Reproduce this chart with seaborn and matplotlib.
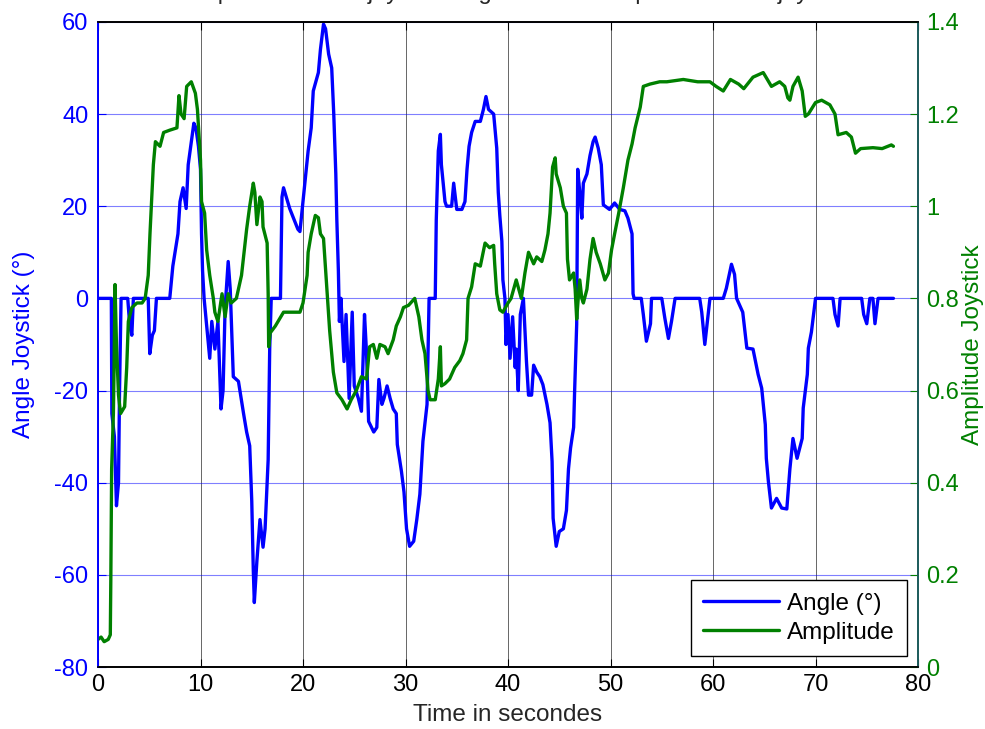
import pandas as pd
import seaborn as sns
import matplotlib.pyplot as plt

# joystick angle (deg) vs time (s)
angle_t = [0, 1.3, 1.35, 1.6, 1.8, 2.0, 2.1, 2.25, 2.9, 3.1, 3.3, 3.45, 4.9, 5.05, 5.3, 5.5, 5.7, 7.0,
           7.3, 7.8, 8.0, 8.3, 8.6, 8.8, 9.1, 9.35, 9.55, 9.8, 10.0, 10.1, 10.2, 10.35, 10.9, 11.1, 11.4,
           11.7, 12.0, 12.2, 12.4, 12.7, 12.9, 13.2, 13.7, 14.2, 14.5, 14.8, 15.0, 15.15, 15.25, 15.5,
           15.8, 16.1, 16.3, 16.6, 16.75, 16.9, 17.8, 17.95, 18.1, 18.7, 19.5, 19.7, 20.0, 20.5, 20.8,
           21.0, 21.5, 21.7, 22.0, 22.2, 22.5, 22.8, 23.0, 23.2, 23.3, 23.45, 23.55, 23.7, 24.0, 24.2,
           24.5, 24.8, 25.0, 25.4, 25.7, 26.0, 26.2, 26.4, 26.9, 27.2, 27.4, 27.7, 27.9, 28.2, 28.5,
           28.8, 29.1, 29.2, 29.6, 29.85, 30.1, 30.4, 30.8, 31.1, 31.4, 31.7, 32.1, 32.3, 32.9, 33.0,
           33.2, 33.4, 33.5, 33.85, 34.0, 34.5, 34.7, 35.0, 35.5, 35.8, 36.0, 36.2, 36.45, 36.8, 37.3,
           37.6, 37.85, 38.1, 38.6, 38.9, 39.05, 39.2, 39.4, 39.5, 39.7, 39.8, 40.0, 40.2, 40.45, 40.7,
           40.8, 41.0, 41.2, 41.5, 41.8, 42.0, 42.3, 42.5, 42.8, 43.1, 43.4, 43.8, 44.1, 44.3, 44.4,
           44.7, 45.0, 45.4, 45.7, 45.9, 46.1, 46.4, 46.5, 46.7, 46.8, 47.0, 47.2, 47.35, 47.7, 48.0,
           48.3, 48.5, 48.8, 49.1, 49.3, 49.9, 50.4, 50.9, 51.4, 51.7, 52.1, 52.2, 52.3, 53.0, 53.2,
           53.5, 53.9, 54.0, 55.0, 55.3, 55.65, 55.95, 56.3, 58.7, 58.9, 59.2, 59.45, 59.7, 61.0, 61.3,
           61.8, 62.1, 62.3, 62.9, 63.3, 63.9, 64.4, 64.75, 65.1, 65.2, 65.4, 65.7, 66.2, 66.7, 67.2,
           67.5, 67.8, 68.2, 68.7, 68.8, 69.2, 69.3, 69.6, 70.0, 71.7, 71.9, 72.2, 72.4, 74.5, 74.7,
           75.0, 75.3, 75.6, 75.8, 76.1, 77.6]
angle_v = [0, 0, -25, -30, -45, -40, -20, 0, 0, -6, -8, 0, 0, -12, -8, -7, 0, 0,
           7, 14, 21, 24, 19.5, 29, 34, 38, 37, 33, 28, 14, 6, 0, -13, -5, -11,
           -5, -24, -20, -2, 8, 2, -17, -18, -25, -29, -32, -44, -59, -66, -57,
           -48, -54, -50, -35, -11, 0, 0, 22, 24, 19.5, 15, 14.5, 21, 32, 37,
           45, 49, 54, 59.5, 58.5, 53, 50, 40, 27, 17, 6, -5, 0, -13.7, -3.5,
           -21.7, -3, -19, -21.7, -24.5, -3.5, -12, -26.7, -29, -28, -17.6, -23, -21.7, -19, -21.7,
           -24, -25, -31.7, -37.5, -42, -50, -53.8, -52.7, -48, -42.5, -31, -23, 0, 0, 17,
           32, 35.6, 29, 21, 20, 20, 25, 19.3, 19.3, 21, 28, 33, 36, 38.4, 38.4,
           41, 43.8, 41, 40, 32.6, 23, 18, 12.4, 4, 0, -10, -3.5, -13, -4, -15,
           -11, -20, -3.5, 0, -13.7, -21, -21, -14.5, -16, -17, -18.7, -23, -27, -35.4, -47.7,
           -53.8, -50.6, -50, -46, -37, -32.5, -28, -20, -5.6, 28, 23, 17.4, 25, 27, 31,
           34, 35, 32.6, 29, 20.3, 19.3, 20.7, 19.3, 19, 17.4, 14, 1, 0, 0, -3.5,
           -9.3, -5.5, 0, 0, -4.3, -8.7, -5, 0, 0, -3, -10, -5, 0, 0, 2.2,
           7.4, 5.2, 0, -3, -10.8, -11, -16.5, -19.5, -27.4, -34.7, -39.7, -45.5, -43.4, -45.5, -45.7,
           -37, -30.4, -34.7, -30.4, -23.8, -16.5, -10.8, -7.3, 0, 0, -3.5, -6, 0, 0, -3.5,
           -5.5, 0, 0, -5.5, 0, 0]

# joystick amplitude vs time (s)
amp_t = [0, 0.3, 0.6, 1.0, 1.2, 1.25, 1.33, 1.5, 1.56, 1.66, 1.8, 2.0, 2.2, 2.6, 2.8, 2.96, 3.3, 3.8,
         4.3, 4.6, 4.9, 5.07, 5.4, 5.6, 6.05, 6.4, 7.0, 7.7, 7.9, 8.1, 8.4, 8.65, 9.1, 9.5, 9.7, 10.0,
         10.1, 10.4, 10.6, 10.9, 11.25, 11.4, 11.7, 12.1, 12.4, 12.7, 13.0, 13.5, 14.0, 14.5, 14.8,
         15.15, 15.3, 15.5, 15.8, 16.0, 16.1, 16.5, 16.6, 16.65, 16.8, 17.3, 18.1, 18.7, 19.7, 20.0,
         20.4, 20.5, 20.8, 21.2, 21.5, 21.7, 22.0, 22.3, 22.6, 22.96, 23.3, 23.8, 24.3, 24.7, 25.2,
         25.7, 26.2, 26.5, 26.86, 27.2, 27.5, 28.0, 28.3, 28.8, 29.1, 29.5, 29.8, 30.3, 30.9, 31.3,
         31.6, 31.9, 32.2, 32.4, 32.9, 33.2, 33.4, 33.5, 33.85, 34.3, 34.8, 35.3, 35.6, 35.96, 36.1,
         36.45, 36.8, 37.3, 37.76, 38.2, 38.6, 38.7, 38.9, 39.2, 39.5, 40.0, 40.3, 40.8, 41.3, 41.65,
         42.0, 42.5, 42.8, 43.3, 43.6, 43.9, 44.1, 44.35, 44.6, 44.7, 45.1, 45.4, 45.7, 45.8, 46.0,
         46.4, 46.55, 46.7, 46.85, 47.0, 47.2, 47.35, 47.7, 48.0, 48.3, 48.6, 49.0, 49.45, 49.8, 50.1,
         50.4, 50.8, 51.25, 51.7, 52.1, 52.4, 52.9, 53.2, 53.85, 54.8, 55.5, 57.1, 58.5, 59.7, 60.3,
         61.0, 61.7, 62.5, 63.0, 63.9, 64.9, 65.3, 65.7, 66.5, 67.0, 67.3, 67.5, 67.8, 68.3, 68.7,
         69.0, 69.3, 70.0, 70.6, 71.4, 71.9, 72.2, 73.0, 73.5, 73.9, 74.4, 75.6, 76.5, 77.4, 77.6]
amp_v = [0.06, 0.065, 0.055, 0.06, 0.07, 0.19, 0.43, 0.55, 0.64, 0.83, 0.7, 0.59, 0.55, 0.565, 0.65, 0.75, 0.78, 0.79,
         0.79, 0.80, 0.85, 0.94, 1.09, 1.14, 1.13, 1.16, 1.165, 1.17, 1.24, 1.2, 1.19, 1.26, 1.27, 1.245, 1.21, 1.10,
         1.01, 0.985, 0.905, 0.85, 0.80, 0.77, 0.75, 0.81, 0.76, 0.81, 0.79, 0.80, 0.85, 0.95, 1.0,
         1.05, 1.03, 0.96, 1.02, 1.01, 0.955, 0.92, 0.81, 0.695, 0.725, 0.74, 0.77, 0.77, 0.77, 0.79,
         0.85, 0.90, 0.94, 0.98, 0.975, 0.94, 0.93, 0.83, 0.73, 0.64, 0.595, 0.58, 0.56, 0.58, 0.60,
         0.63, 0.625, 0.695, 0.70, 0.67, 0.70, 0.695, 0.68, 0.71, 0.74, 0.76, 0.78, 0.785, 0.80, 0.76,
         0.71, 0.68, 0.60, 0.58, 0.58, 0.625, 0.695, 0.61, 0.615, 0.625, 0.65, 0.665, 0.68, 0.71, 0.80,
         0.825, 0.875, 0.87, 0.92, 0.91, 0.915, 0.875, 0.81, 0.775, 0.77, 0.79, 0.80, 0.84, 0.80, 0.855,
         0.90, 0.875, 0.89, 0.88, 0.905, 0.94, 0.985, 1.085, 1.105, 1.07, 1.04, 1.0, 0.985, 0.885, 0.84,
         0.855, 0.82, 0.755, 0.80, 0.84, 0.80, 0.79, 0.82, 0.885, 0.93, 0.90, 0.875, 0.84, 0.855, 0.905,
         0.94, 0.985, 1.04, 1.10, 1.135, 1.17, 1.215, 1.26, 1.265, 1.27, 1.27, 1.275, 1.27, 1.27, 1.26,
         1.25, 1.275, 1.265, 1.255, 1.28, 1.29, 1.275, 1.26, 1.27, 1.26, 1.235, 1.23, 1.26, 1.28, 1.25,
         1.195, 1.20, 1.225, 1.23, 1.22, 1.20, 1.155, 1.16, 1.15, 1.115, 1.125, 1.127, 1.125, 1.133, 1.13]

x_ticks = [0, 10, 20, 30, 40, 50, 60, 70, 80]
left_ticks = [-80, -60, -40, -20, 0, 20, 40, 60]
right_ticks = [0, 0.2, 0.4, 0.6, 0.8, 1.0, 1.2, 1.4]
right_labels = ["0", "0.2", "0.4", "0.6", "0.8", "1", "1.2", "1.4"]

BLUE = "#0000ff"
GREEN = "#008000"

sns.set_style("white")
plt.rcParams['font.family'] = ['Liberation Sans', 'DejaVu Sans']
plt.rcParams['axes.unicode_minus'] = False
fs = 17
lfs = 17.5

df_a = pd.DataFrame({"t": angle_t, "v": angle_v})
df_b = pd.DataFrame({"t": amp_t, "v": amp_v})

fig, ax = plt.subplots(figsize=(9.85, 7.29), dpi=100)
fig.subplots_adjust(left=0.0995, right=0.932, bottom=0.085, top=0.97)
ax2 = ax.twinx()

sns.lineplot(data=df_a, x="t", y="v", ax=ax, color=BLUE, lw=2.4, sort=False, estimator=None)
sns.lineplot(data=df_b, x="t", y="v", ax=ax2, color=GREEN, lw=2.4, sort=False, estimator=None)

ax.set_xlim(0, 80)
ax.set_ylim(-80, 60)
ax2.set_ylim(0, 1.4)
ax.set_xticks(x_ticks)
ax.set_yticks(left_ticks)
ax2.set_yticks(right_ticks)
ax2.set_yticklabels(right_labels)

ax.grid(axis="x", color="0.4", lw=0.7)
ax.grid(axis="y", color=BLUE, alpha=0.5, lw=0.8)
ax.set_axisbelow(True)

ax.tick_params(axis="x", direction="in", top=True, bottom=True, length=6, labelsize=fs, colors="black", pad=5)
ax.tick_params(axis="y", direction="in", left=True, right=False, length=6, labelsize=fs, colors=BLUE, pad=7)
ax2.tick_params(axis="y", direction="in", left=False, right=True, length=6, labelsize=fs, colors=GREEN, pad=6)

for a in (ax, ax2):
    for s in a.spines.values():
        s.set_visible(True)
        s.set_linewidth(1.2)
    a.spines["top"].set_color("black")
    a.spines["bottom"].set_color("black")
    a.spines["left"].set_color(BLUE)
    a.spines["right"].set_color("#1a5a5a")

ax.set_xlabel("Time in secondes", fontsize=lfs, labelpad=6)
ax.set_ylabel("Angle Joystick (°)", fontsize=lfs, color=BLUE, labelpad=14)
ax2.set_ylabel("Amplitude Joystick", fontsize=lfs, color=GREEN, labelpad=2)

h1 = ax.get_lines()[0]
h2 = ax2.get_lines()[0]
leg = ax2.legend([h1, h2], ["Angle (°)", "Amplitude"], loc="lower right", fontsize=lfs,
                 fancybox=False, framealpha=1, edgecolor="black", handlelength=3.1,
                 handletextpad=0.35, borderpad=0.5, labelspacing=0.3, borderaxespad=0.45)
leg.get_frame().set_linewidth(1.0)
for txt in leg.get_texts():
    txt.set_color("black")

# title sits above the canvas, only its descenders show
fig.text(0.52, 1 + 1.5 / 729, "Comparison of the joystick angle and the amplitude of the joystick",
         ha="center", va="baseline", fontsize=fs)

fig.savefig("out.png", dpi=100)
